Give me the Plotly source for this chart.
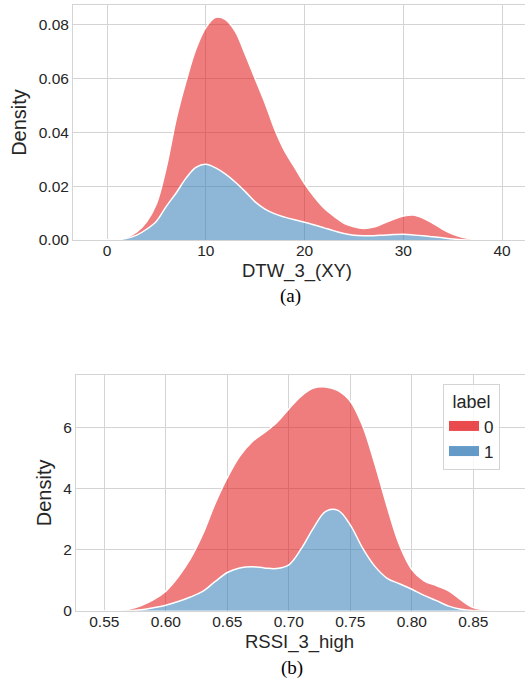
import plotly.graph_objects as go

# ---- Data: panel (a) DTW_3_(XY) ----
dtw_x = [0, 1, 2, 3, 4, 5, 6, 7, 8, 9, 10, 11, 12, 13, 14, 15, 16, 17, 18, 19, 20,
         21, 22, 23, 24, 25, 26, 27, 28, 29, 30, 31, 32, 33, 34, 35, 36, 37, 38]
dtw_total = [0.0, 0.0002, 0.0010, 0.0030, 0.0068, 0.0135, 0.027, 0.045, 0.059, 0.071,
             0.079, 0.0828, 0.0820, 0.0775, 0.069, 0.060, 0.051, 0.041, 0.033, 0.027,
             0.021, 0.016, 0.0118, 0.0088, 0.0062, 0.0049, 0.0043, 0.0048, 0.0062,
             0.0077, 0.0089, 0.0093, 0.0082, 0.0062, 0.0040, 0.0022, 0.0010, 0.0003, 0.0]
dtw_label1 = [0.0, 0.0001, 0.0006, 0.0018, 0.0040, 0.0070, 0.0125, 0.0175, 0.023, 0.0270,
              0.0282, 0.0268, 0.0245, 0.0215, 0.0180, 0.0142, 0.0115, 0.0097, 0.0085,
              0.0075, 0.0066, 0.0056, 0.0045, 0.0034, 0.0024, 0.0018, 0.0016, 0.0016,
              0.0018, 0.0020, 0.0021, 0.0019, 0.0016, 0.0012, 0.0008, 0.0004, 0.0001, 0.0, 0.0]
dtw_label0 = [t - b for t, b in zip(dtw_total, dtw_label1)]

# ---- Data: panel (b) RSSI_3_high ----
rssi_x = [0.55, 0.56, 0.57, 0.58, 0.59, 0.60, 0.61, 0.62, 0.63, 0.64, 0.65, 0.66, 0.67,
          0.68, 0.69, 0.70, 0.71, 0.72, 0.73, 0.74, 0.75, 0.76, 0.77, 0.78, 0.79, 0.80,
          0.81, 0.82, 0.83, 0.84, 0.85, 0.86, 0.87]
rssi_total = [0.0, 0.0, 0.05, 0.17, 0.36, 0.64, 1.10, 1.70, 2.50, 3.50, 4.35, 5.05, 5.52,
              5.82, 6.15, 6.60, 7.02, 7.28, 7.32, 7.20, 6.85, 6.05, 4.80, 3.40, 2.15, 1.35,
              0.98, 0.82, 0.65, 0.35, 0.10, 0.02, 0.0]
rssi_label1 = [0.0, 0.0, 0.0, 0.03, 0.10, 0.18, 0.30, 0.45, 0.63, 0.95, 1.25, 1.40, 1.44,
               1.40, 1.38, 1.50, 2.02, 2.70, 3.25, 3.28, 2.80, 2.05, 1.45, 1.06, 0.88, 0.70,
               0.50, 0.33, 0.15, 0.05, 0.01, 0.0, 0.0]
rssi_label0 = [t - b for t, b in zip(rssi_total, rssi_label1)]

labels = ["0", "1"]
fill_colors = {"0": "rgba(228,26,28,0.57)", "1": "rgba(55,126,184,0.57)"}
legend_colors = {"0": "rgba(228,26,28,0.78)", "1": "rgba(55,126,184,0.78)"}

TXT = "#262626"
GRID = "#d4d4d4"
SANS = "Liberation Sans, Arial, sans-serif"
SERIF = "Liberation Serif, Times New Roman, serif"

fig = go.Figure()

def add_panel(x, l1, l0, xa, ya, group):
    fig.add_trace(go.Scatter(x=x, y=l1, xaxis=xa, yaxis=ya, stackgroup=group,
                             mode="lines", line=dict(color="white", width=1.5, shape="spline", smoothing=1.0),
                             fillcolor=fill_colors["1"], showlegend=False, hoverinfo="skip"))
    fig.add_trace(go.Scatter(x=x, y=l0, xaxis=xa, yaxis=ya, stackgroup=group,
                             mode="lines", line=dict(color="white", width=1.5, shape="spline", smoothing=1.0),
                             fillcolor=fill_colors["0"], showlegend=False, hoverinfo="skip"))

add_panel(dtw_x, dtw_label1, dtw_label0, "x", "y", "a")
add_panel(rssi_x, rssi_label1, rssi_label0, "x2", "y2", "b")

# legend entries (panel b)
for lab in labels:
    fig.add_trace(go.Scatter(x=[None], y=[None], xaxis="x2", yaxis="y2", mode="lines",
                             line=dict(color=legend_colors[lab], width=11),
                             name=lab, showlegend=True))

axis_common = dict(showgrid=True, gridcolor=GRID, gridwidth=1, zeroline=False,
                   showline=True, linecolor=GRID, linewidth=1, ticks="", automargin=False,
                   tickfont=dict(family=SANS, size=15.5, color=TXT))

fig.update_layout(
    width=525, height=681,
    margin=dict(l=0, r=0, t=0, b=0),
    paper_bgcolor="white", plot_bgcolor="white",
    xaxis=dict(domain=[73/525, 1.0], anchor="y", range=[-3.45, 42.33],
               tickvals=[0, 10, 20, 30, 40], mirror=True, ticklabelstandoff=-4,
               **axis_common),
    yaxis=dict(domain=[1-240/681, 1-5/681], anchor="x", range=[0, 0.0874],
               tickvals=[0, 0.02, 0.04, 0.06, 0.08], tickformat=".2f",
               title=dict(text="Density", font=dict(family=SANS, size=20, color=TXT), standoff=6),
               **axis_common),
    xaxis2=dict(domain=[76/525, 1.0], anchor="y2", range=[0.527, 0.892],
                tickvals=[0.55, 0.60, 0.65, 0.70, 0.75, 0.80, 0.85], tickformat=".2f", mirror=True,
                ticklabelstandoff=-3,
                **axis_common),
    yaxis2=dict(domain=[1-610.7/681, 1-375/681], anchor="x2", range=[0, 7.71],
                tickvals=[0, 2, 4, 6],
                title=dict(text="Density", font=dict(family=SANS, size=20, color=TXT), standoff=6),
                **axis_common),
    legend=dict(x=443/525, y=1-384/681, xanchor="left", yanchor="top",
                bgcolor="rgba(255,255,255,0.8)", bordercolor=GRID, borderwidth=1,
                title=dict(text="label", font=dict(family=SANS, size=18, color=TXT), side="top center"),
                font=dict(family=SANS, size=17, color=TXT), traceorder="normal"),
    annotations=[
        dict(text="DTW_3_(XY)", x=297/525, y=1-271/681, xref="paper", yref="paper",
             xanchor="center", yanchor="middle", showarrow=False,
             font=dict(family=SANS, size=18.5, color=TXT)),
        dict(text="RSSI_3_high", x=299/525, y=1-642/681, xref="paper", yref="paper",
             xanchor="center", yanchor="middle", showarrow=False,
             font=dict(family=SANS, size=18.5, color=TXT)),
        dict(text="(a)", x=290/525, y=1-296/681, xref="paper", yref="paper",
             xanchor="center", yanchor="middle",
             showarrow=False, font=dict(family=SERIF, size=19, color="black")),
        dict(text="(b)", x=292/525, y=1-668/681, xref="paper", yref="paper",
             xanchor="center", yanchor="middle",
             showarrow=False, font=dict(family=SERIF, size=19, color="black")),
    ],
)

fig.write_html("out.html", config={"displayModeBar": False},
               post_script="document.body.style.margin='0';document.body.style.overflow='hidden';")
